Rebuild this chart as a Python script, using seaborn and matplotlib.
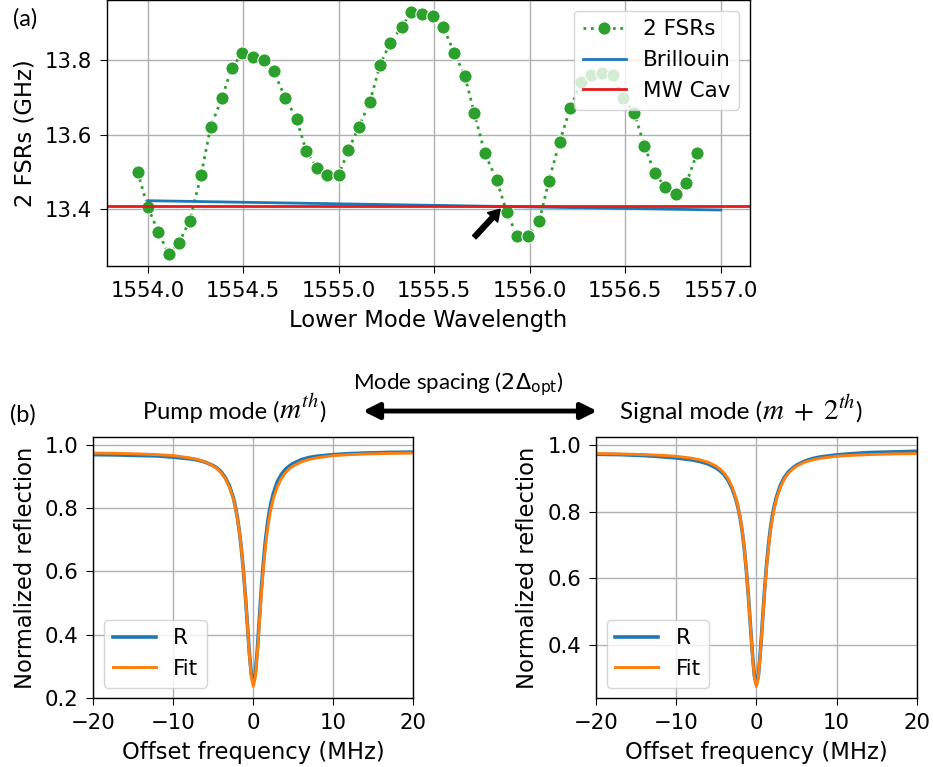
import matplotlib
matplotlib.use("Agg")
import matplotlib.pyplot as plt
import seaborn as sns

# ---------------- (a) data ----------------
wavelength = [1553.948, 1554.000, 1554.055, 1554.110, 1554.163, 1554.220, 1554.280,
              1554.330, 1554.390, 1554.440, 1554.495, 1554.550, 1554.610, 1554.660,
              1554.720, 1554.780, 1554.830, 1554.885, 1554.940, 1555.000, 1555.050,
              1555.106, 1555.163, 1555.217, 1555.270, 1555.330, 1555.380, 1555.434,
              1555.495, 1555.547, 1555.606, 1555.660, 1555.710, 1555.765, 1555.826,
              1555.880, 1555.934, 1555.990, 1556.050, 1556.100, 1556.156, 1556.213,
              1556.270, 1556.320, 1556.378, 1556.434, 1556.490, 1556.547, 1556.600,
              1556.654, 1556.710, 1556.767, 1556.820, 1556.876]
fsr2 = [13.500, 13.407, 13.340, 13.279, 13.309, 13.369, 13.492, 13.622, 13.700,
        13.780, 13.819, 13.810, 13.800, 13.771, 13.700, 13.642, 13.557, 13.512,
        13.492, 13.492, 13.558, 13.622, 13.689, 13.789, 13.848, 13.890, 13.930,
        13.926, 13.920, 13.890, 13.819, 13.759, 13.658, 13.550, 13.480, 13.392,
        13.328, 13.328, 13.369, 13.476, 13.581, 13.673, 13.743, 13.760, 13.767,
        13.760, 13.700, 13.658, 13.571, 13.497, 13.459, 13.440, 13.470, 13.552]
brill_x = [1554.0, 1557.0]
brill_y = [13.423, 13.398]
mw_cav = 13.41
arrow_tail = (1555.71, 13.325)
arrow_head = (1555.845, 13.400)
wl_ticks = [1554.0, 1554.5, 1555.0, 1555.5, 1556.0, 1556.5, 1557.0]

# ---------------- (b) data ----------------
offset = [-20, -17, -14, -12, -10, -8, -7, -6, -5, -4.5, -4, -3.5, -3, -2.5, -2.25,
          -2, -1.75, -1.5, -1.25, -1, -0.75, -0.5, -0.25, 0, 0.25, 0.5, 0.75, 1,
          1.25, 1.5, 1.75, 2, 2.25, 2.5, 3, 3.5, 4, 4.5, 5, 6, 7, 8, 10, 12, 14, 17, 20]
pump_R = [0.970, 0.969, 0.967, 0.966, 0.962, 0.957, 0.953, 0.946, 0.935, 0.927, 0.915,
          0.897, 0.872, 0.834, 0.806, 0.772, 0.728, 0.674, 0.606, 0.527, 0.436, 0.344,
          0.274, 0.250, 0.276, 0.350, 0.447, 0.543, 0.625, 0.694, 0.747, 0.789, 0.821,
          0.847, 0.884, 0.907, 0.923, 0.934, 0.942, 0.954, 0.961, 0.965, 0.970, 0.973,
          0.975, 0.977, 0.978]
pump_fit = [0.975, 0.974, 0.972, 0.970, 0.967, 0.960, 0.955, 0.947, 0.934, 0.925, 0.912,
            0.894, 0.868, 0.830, 0.803, 0.770, 0.727, 0.674, 0.607, 0.526, 0.432, 0.338,
            0.265, 0.236, 0.265, 0.338, 0.432, 0.526, 0.607, 0.674, 0.727, 0.770, 0.803,
            0.830, 0.868, 0.894, 0.912, 0.925, 0.934, 0.947, 0.955, 0.960, 0.967, 0.970,
            0.972, 0.974, 0.975]
signal_R = [0.972, 0.971, 0.968, 0.965, 0.961, 0.955, 0.950, 0.943, 0.931, 0.922, 0.910,
            0.893, 0.868, 0.833, 0.808, 0.778, 0.738, 0.688, 0.625, 0.549, 0.463, 0.377,
            0.309, 0.283, 0.307, 0.377, 0.466, 0.556, 0.634, 0.697, 0.748, 0.788, 0.818,
            0.843, 0.879, 0.903, 0.919, 0.930, 0.939, 0.951, 0.959, 0.964, 0.970, 0.974,
            0.977, 0.979, 0.981]
signal_fit = [0.974, 0.973, 0.971, 0.969, 0.966, 0.960, 0.955, 0.948, 0.936, 0.927, 0.915,
              0.898, 0.873, 0.837, 0.811, 0.780, 0.740, 0.689, 0.626, 0.549, 0.461, 0.372,
              0.302, 0.275, 0.302, 0.372, 0.461, 0.549, 0.626, 0.689, 0.740, 0.780, 0.811,
              0.837, 0.873, 0.898, 0.915, 0.927, 0.936, 0.948, 0.955, 0.960, 0.966, 0.969,
              0.971, 0.973, 0.974]
off_ticks = [-20, -10, 0, 10, 20]

plt.rcParams.update({
    "font.family": ["DejaVu Sans"],
    "xtick.labelsize": 15.3,
    "ytick.labelsize": 15.3,
    "xtick.major.size": 5,
    "ytick.major.size": 5,
    "xtick.major.pad": 5.5,
    "ytick.major.pad": 5.5,
    "axes.labelsize": 16.3,
    "axes.labelpad": 6,
    "legend.fontsize": 15.5,
    "axes.linewidth": 1.0,
    "grid.color": "#b0b0b0",
    "grid.linewidth": 1.0,
})

fig = plt.figure(figsize=(9.33, 7.67), dpi=100)

# ---------------- panel (a) ----------------
ax_a = fig.add_axes([0.1144, 0.6532, 0.6895, 0.3468])
sns.lineplot(x=wavelength, y=fsr2, ax=ax_a, color="tab:green", marker="o",
             markersize=9.5, linestyle=":", lw=2, label="2 FSRs", estimator=None)
sns.lineplot(x=brill_x, y=brill_y, ax=ax_a, color="tab:blue", lw=2,
             label="Brillouin", estimator=None)
ax_a.axhline(mw_cav, color="#e41a1c", lw=2, label="MW Cav")
ax_a.annotate("", xy=arrow_head, xytext=arrow_tail,
              arrowprops=dict(facecolor="black", edgecolor="black", width=3.5,
                              headwidth=10, headlength=8, shrink=0))
ax_a.set_xlim(1553.786, 1557.153)
ax_a.set_ylim(13.2475, 13.9625)
ax_a.set_xticks(wl_ticks)
ax_a.set_xticklabels([f"{t:.1f}" for t in wl_ticks])
ax_a.set_yticks([13.4, 13.6, 13.8])
ax_a.grid(True)
ax_a.set_xlabel("Lower Mode Wavelength")
ax_a.set_ylabel("2 FSRs (GHz)")
ax_a.legend(loc="upper right")

# ---------------- panel (b) ----------------
def dip_panel(rect, r, fit, ylim):
    ax = fig.add_axes(rect)
    sns.lineplot(x=offset, y=r, ax=ax, color="tab:blue", lw=2.6, label="R",
                 estimator=None, sort=False)
    sns.lineplot(x=offset, y=fit, ax=ax, color="tab:orange", lw=2.1, label="Fit",
                 estimator=None, sort=False)
    ax.set_xlim(-20, 20)
    ax.set_ylim(*ylim)
    ax.set_xticks(off_ticks)
    ax.grid(True)
    ax.set_xlabel("Offset frequency (MHz)")
    ax.set_ylabel("Normalized reflection")
    ax.legend(loc="lower left")
    return ax

ax_b1 = dip_panel([0.1000, 0.0896, 0.3430, 0.3403], pump_R, pump_fit, (0.198, 1.025))
ax_b1.set_yticks([0.2, 0.4, 0.6, 0.8, 1.0])
ax_b2 = dip_panel([0.6388, 0.0896, 0.3437, 0.3403], signal_R, signal_fit, (0.240, 1.023))
ax_b2.set_yticks([0.4, 0.6, 0.8, 1.0])

# ---------------- annotations ----------------
hdr = ["Lato", "DejaVu Sans"]
fig.text(0.0139, 0.967, "(a)", fontsize=17, family=hdr, ha="left", va="baseline")
fig.text(0.0107, 0.451, "(b)", fontsize=17, family=hdr, ha="left", va="baseline")

renderer = fig.canvas.get_renderer()
W = fig.bbox.width


def header(x0, y0, pieces):
    x = x0
    for s, size, mathfam in pieces:
        kw = dict(fontsize=size, family=hdr, ha="left", va="baseline")
        if mathfam:
            kw["math_fontfamily"] = mathfam
        t = fig.text(x, y0, s, **kw)
        ext = t.get_window_extent(renderer)
        x += ext.width / W


header(0.1533, 0.4537, [("Pump mode (", 17, None), (r"$m^{th}$", 21, "stix"),
                        (")", 17, None)])
header(0.6645, 0.4537, [("Signal mode (", 17.5, None),
                        (r"$m\;+\;2^{th}$", 21, "stix"), (")", 17.5, None)])
fig.text(0.491, 0.4928, r"Mode spacing ($2\Delta_{\mathrm{opt}}$)", fontsize=16,
         family=hdr, math_fontfamily="dejavusans", ha="center", va="baseline")
fig.patches.append(matplotlib.patches.FancyArrowPatch(
    (0.386, 0.4641), (0.643, 0.4641), transform=fig.transFigure,
    arrowstyle="<|-|>", mutation_scale=24, lw=3.5, color="black"))

fig.savefig("out.png", dpi=100)
